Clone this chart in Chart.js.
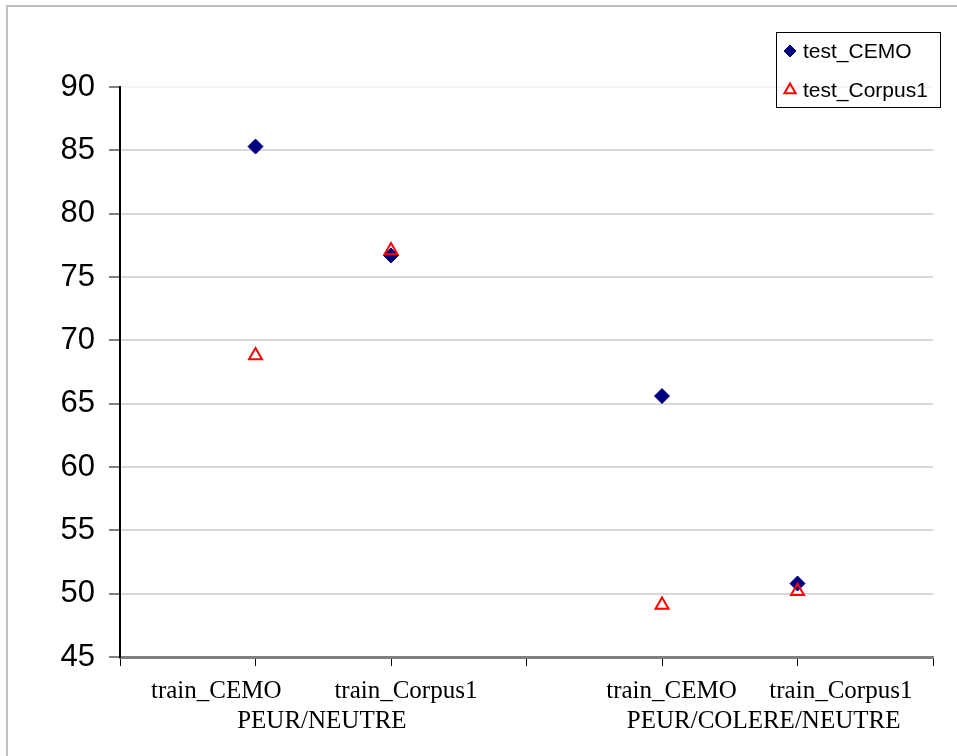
<!DOCTYPE html>
<html>
<head>
<meta charset="utf-8">
<script src="https://cdn.jsdelivr.net/npm/chart.js@4/dist/chart.umd.min.js"></script>
<style>
    body { margin: 0; background: #fff; }
    #frame {
        position: absolute; left: 6px; top: 5px; width: 1000px; height: 800px;
        border-top: 2px solid #c0c0c0; border-left: 2px solid #c0c0c0;
    }
    #chart { position: absolute; left: 0; top: 0; }
</style>
</head>
<body>
<div id="frame"></div>
<canvas id="chart" width="957" height="756"></canvas>
<script>
// Données
const categories = ['train_CEMO', 'train_Corpus1', 'train_CEMO', 'train_Corpus1'];
const groups = ['PEUR/NEUTRE', 'PEUR/COLERE/NEUTRE'];
const categoryX = [1, 2, 4, 5];
const testCemo = [85.3, 76.7, 65.6, 50.8];
const testCorpus1 = [68.8, 77.1, 49.1, 50.2];
const yTicks = [45, 50, 55, 60, 65, 70, 75, 80, 85, 90];

const toPoints = values => values.map((v, i) => ({ x: categoryX[i], y: v }));

// Position des étiquettes (unités de l'axe x)
const catLabelPos = [0.71, 2.11, 4.07, 5.32];
const groupLabelPos = [1.49, 4.75];

const labelsPlugin = {
    id: 'labelsPlugin',
    afterDraw(chart) {
        const ctx = chart.ctx;
        const xs = chart.scales.x;
        ctx.save();
        ctx.fillStyle = '#000';
        ctx.textAlign = 'center';
        ctx.textBaseline = 'alphabetic';
        ctx.font = '25px "Liberation Serif", "Times New Roman", serif';
        categories.forEach((c, i) => {
            ctx.fillText(c, xs.getPixelForValue(catLabelPos[i]), 698);
        });
        groups.forEach((g, i) => {
            ctx.fillText(g, xs.getPixelForValue(groupLabelPos[i]), 728);
        });

        // Légende encadrée
        ctx.strokeStyle = '#000';
        ctx.lineWidth = 1;
        ctx.strokeRect(776.5, 32.5, 164, 75);
        ctx.font = '21px "Liberation Sans", Arial, sans-serif';
        chart.data.datasets.forEach((ds, i) => {
            const y = i === 0 ? 51 : 90;
            ctx.fillStyle = ds.pointBackgroundColor;
            ctx.strokeStyle = ds.pointBorderColor;
            ctx.lineWidth = ds.pointBorderWidth;
            Chart.helpers.drawPoint(ctx, {
                pointStyle: ds.pointStyle,
                radius: i === 0 ? 6 : 6.5,
                borderWidth: ds.pointBorderWidth
            }, 790, y);
            ctx.fillStyle = '#000';
            ctx.textAlign = 'left';
            ctx.textBaseline = 'middle';
            ctx.fillText(ds.label, 803, y + 1);
        });
        ctx.restore();
    }
};

new Chart(document.getElementById('chart'), {
    type: 'scatter',
    data: {
        datasets: [{
            label: 'test_CEMO',
            data: toPoints(testCemo),
            pointStyle: 'rectRot',
            pointRadius: 7.5,
            pointBackgroundColor: '#000080',
            pointBorderColor: '#000080',
            pointBorderWidth: 1,
            order: 1
        }, {
            label: 'test_Corpus1',
            data: toPoints(testCorpus1),
            pointStyle: 'triangle',
            pointRadius: 7.5,
            pointBackgroundColor: 'rgba(0,0,0,0)',
            pointBorderColor: '#ff0000',
            pointBorderWidth: 2,
            order: 0
        }]
    },
    options: {
        responsive: false,
        animation: false,
        devicePixelRatio: 1,
        clip: false,
        layout: { padding: { top: 87, right: 24, left: 0, bottom: 0 } },
        plugins: {
            legend: { display: false },
            tooltip: { enabled: false }
        },
        scales: {
            x: {
                type: 'linear',
                min: 0,
                max: 6,
                ticks: { stepSize: 1, display: false },
                grid: {
                    drawOnChartArea: false,
                    tickLength: 9,
                    tickColor: '#000',
                    lineWidth: 1
                },
                border: { color: '#808080', width: 3 },
                afterFit(scale) { scale.height = 99; }
            },
            y: {
                min: 45,
                max: 90,
                afterBuildTicks(scale) { scale.ticks = yTicks.map(v => ({ value: v })); },
                ticks: {
                    padding: 14,
                    color: '#000',
                    font: { family: '"Liberation Sans", Arial, sans-serif', size: 31 }
                },
                grid: {
                    color: ctx => ctx.tick && ctx.tick.value === 90 ? '#f4f4f4' : '#d9d9d9',
                    lineWidth: 2,
                    tickLength: 11,
                    tickColor: '#808080'
                },
                border: { color: '#000', width: 2 },
                afterFit(scale) { scale.width = 120; }
            }
        }
    },
    plugins: [labelsPlugin]
});
</script>
</body>
</html>
